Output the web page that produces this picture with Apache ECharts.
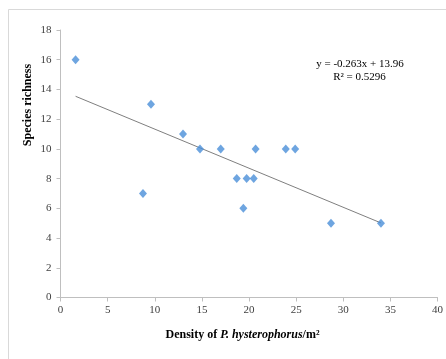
<!DOCTYPE html>
<html>
<head>
<meta charset="utf-8">
<script src="https://cdn.jsdelivr.net/npm/echarts@6/dist/echarts.min.js"></script>
<style>
html,body{margin:0;padding:0;background:#fff;}
#chart{width:446px;height:359px;}
</style>
</head>
<body>
<div id="chart"></div>
<script>
// Data
var density = [1.6, 9.6, 8.75, 13.0, 14.8, 17.0, 18.7, 19.75, 19.4, 20.5, 20.7, 23.9, 24.9, 28.7, 34.0];
var richness = [16, 13, 7, 11, 10, 10, 8, 8, 6, 8, 10, 10, 10, 5, 5];
var trendSlope = -0.263;
var trendIntercept = 13.96;
var trendRange = [1.6, 34.0];
var equationText = 'y = -0.263x + 13.96';
var r2Text = 'R² = 0.5296';
var xTicks = [0, 5, 10, 15, 20, 25, 30, 35, 40];
var yTicks = [0, 2, 4, 6, 8, 10, 12, 14, 16, 18];

var points = density.map(function (d, i) { return [d, richness[i]]; });
var trend = trendRange.map(function (x) { return [x, trendSlope * x + trendIntercept]; });

var serif = '"Liberation Serif", "Times New Roman", serif';
var chart = echarts.init(document.getElementById('chart'), null, {renderer: 'canvas'});
chart.setOption({
  animation: false,
  backgroundColor: '#fff',
  grid: {left: 60.5, right: 8, top: 30, bottom: 61.5, containLabel: false},
  xAxis: {
    type: 'value', min: xTicks[0], max: xTicks[xTicks.length - 1], interval: 5,
    axisLine: {show: true, lineStyle: {color: '#bfbfbf', width: 1}},
    axisTick: {show: true, length: 4, lineStyle: {color: '#bfbfbf'}},
    splitLine: {show: false},
    axisLabel: {fontFamily: serif, fontSize: 11, color: '#404040', margin: 7},
    name: '{b|Density of }{i|P. hysterophorus}{b|/m²}',
    nameLocation: 'middle', nameGap: 31,
    nameTextStyle: {
      padding: [0, 13, 0, 0],
      rich: {
        b: {fontFamily: serif, fontSize: 12, fontWeight: 'bold', color: '#000'},
        i: {fontFamily: serif, fontSize: 12, fontWeight: 'bold', fontStyle: 'italic', color: '#000'}
      }
    }
  },
  yAxis: {
    type: 'value', min: yTicks[0], max: yTicks[yTicks.length - 1], interval: 2,
    axisLine: {show: true, lineStyle: {color: '#bfbfbf', width: 1}},
    axisTick: {show: true, length: 4, lineStyle: {color: '#bfbfbf'}},
    splitLine: {show: false},
    axisLabel: {fontFamily: serif, fontSize: 11, color: '#404040', margin: 9}
  },
  graphic: [
    {type: 'line', shape: {x1: 8.5, y1: 9.5, x2: 446, y2: 9.5}, style: {stroke: '#d9d9d9', lineWidth: 1}, silent: true},
    {type: 'line', shape: {x1: 8.5, y1: 9.5, x2: 8.5, y2: 359}, style: {stroke: '#d9d9d9', lineWidth: 1}, silent: true},
    {type: 'text', x: 27.5, y: 105, rotation: Math.PI / 2,
      style: {text: 'Species richness', font: 'bold 12px ' + serif, fill: '#000', textAlign: 'center', textVerticalAlign: 'middle'}},
    {type: 'text', x: 360, y: 64,
      style: {text: equationText, font: '11px ' + serif, fill: '#000', textAlign: 'center', textVerticalAlign: 'middle'}},
    {type: 'text', x: 359.5, y: 77,
      style: {text: r2Text, font: '11px ' + serif, fill: '#000', textAlign: 'center', textVerticalAlign: 'middle'}}
  ],
  series: [
    {
      type: 'line', data: trend, symbol: 'none', silent: true,
      lineStyle: {color: '#7f7f7f', width: 1}, z: 1
    },
    {
      type: 'scatter', data: points, symbol: 'diamond', symbolSize: [8, 9],
      itemStyle: {color: '#4a8fd8'}, z: 2
    }
  ]
});
</script>
</body>
</html>
